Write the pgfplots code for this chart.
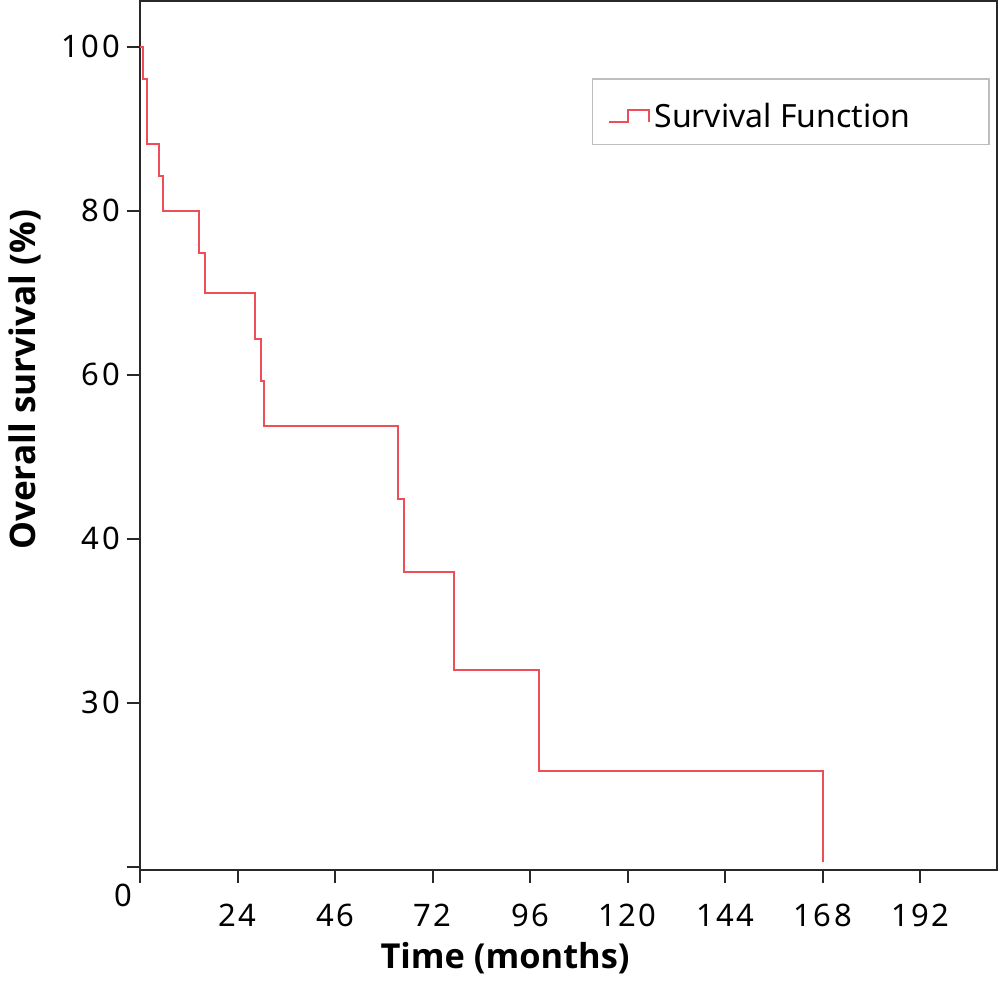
\documentclass[border=0pt]{standalone}
\usepackage{pgfplots}
\pgfplotsset{compat=1.18}
\usepackage{fontspec}
\setmainfont{Noto Sans}
\newfontfamily\tickfont[LetterSpace=8]{Noto Sans}
\newfontfamily\labelfont{Open Sans}
\definecolor{kmred}{RGB}{238,78,88}
\definecolor{axisgray}{RGB}{40,40,40}
\definecolor{legendgray}{RGB}{190,190,190}
\begin{document}
\begin{tikzpicture}
\begin{axis}[
  name=ax,
  scale only axis,
  width=428.5pt, height=434.5pt,
  xmin=0, xmax=210.9, ymin=-0.4, ymax=105.6,
  xtick={0,24,48,72,96,120,144,168,192},
  xticklabels={,24,46,72,96,120,144,168,192},
  ytick={0,20,40,60,80,100},
  yticklabels={,30,40,60,80,100},
  xtick pos=bottom, ytick pos=left,
  tick align=outside,
  major tick length=6.5pt,
  axis line style={axisgray, line width=1pt},
  every tick/.style={axisgray, line width=1pt},
  tick label style={font=\tickfont\fontsize{15.5}{18}\selectfont},
  xticklabel style={yshift=-7pt},
  /pgf/number format/assume math mode=true,
  xlabel={Time (months)},
  ylabel={Overall survival (\%)},
  every axis x label/.style={at={(rel axis cs:0.426,0)}, anchor=center, yshift=-44pt,
    font=\labelfont\bfseries\fontsize{17.2}{20}\selectfont},
  every axis y label/.style={at={(rel axis cs:0,0.564)}, anchor=center, xshift=-57.5pt, rotate=90,
    font=\labelfont\bfseries\fontsize{17.6}{20}\selectfont},
  clip=false,
  legend style={at={(rel axis cs:0.527,0.911)}, anchor=north west,
    draw=legendgray, line width=0.8pt, inner xsep=8pt, inner ysep=5pt,
    font=\fontsize{16}{19}\selectfont},
  legend image code/.code={\draw[#1] (0pt,-5.3pt) -- (9.5pt,-5.3pt) -- (9.5pt,0.8pt) -- (20pt,0.8pt) -- (20pt,-5.3pt);},
]
% Kaplan-Meier estimate: time in months, survival in percent
\addplot[kmred, line width=1pt, const plot] coordinates {
  (0,100) (0.66,96.1) (1.72,88.2) (4.68,84.2) (5.66,80.0)
  (14.5,74.9) (16.07,70.0) (28.3,64.4) (29.8,59.2) (30.4,53.7)
  (63.4,44.8) (65.0,36.0) (77.2,24.0) (98.2,11.7) (168.0,0.6)
};
\addlegendentry{\raisebox{0pt}[\dimexpr\height+5pt\relax]{Survival Function\hspace*{29pt}}}
\node[font=\tickfont\fontsize{15.5}{18}\selectfont] at (axis cs:0,-0.4) [xshift=-8.5pt, yshift=-12.5pt] {0};
\end{axis}
\pgfresetboundingbox
\path ([xshift=-70pt,yshift=-55pt]ax.south west) rectangle ([xshift=1pt,yshift=0.5pt]ax.north east);
\end{tikzpicture}
\end{document}
